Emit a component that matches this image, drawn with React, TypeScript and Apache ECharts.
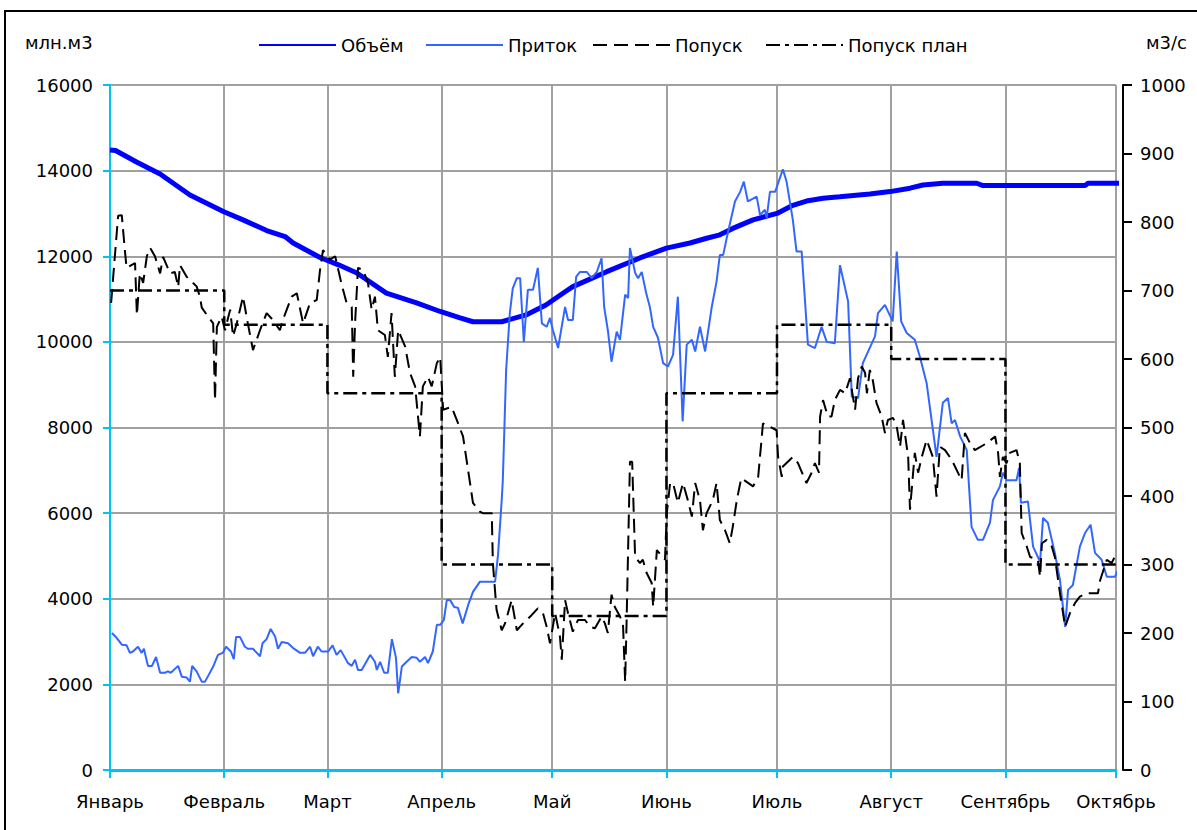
import React, { useEffect, useRef } from 'react';
import * as echarts from 'echarts';

const monthNames = ['Январь', 'Февраль', 'Март', 'Апрель', 'Май', 'Июнь', 'Июль', 'Август', 'Сентябрь', 'Октябрь'];
const monthStartDays = [0, 31, 59, 90, 120, 151, 181, 212, 243, 273];
const planMonthValues = [700, 650, 550, 300, 225, 550, 650, 600, 300];

const volume: [number, number][] = [
  [0, 14480], [1.5, 14470], [7.2, 14200], [13.6, 13920], [21.7, 13430], [30.9, 13040], [36.1, 12850],
  [42.5, 12600], [47.5, 12460], [49.7, 12310], [57, 11970], [62, 11800], [67, 11610], [75, 11140],
  [83.2, 10910], [89.6, 10710], [95, 10560], [98.5, 10470], [106.3, 10470], [112.9, 10630], [118.3, 10860],
  [123.5, 11170], [125.6, 11290], [134.8, 11640], [143.8, 11960], [151, 12190], [157.4, 12310],
  [161.9, 12420], [165.5, 12500], [169, 12650], [174.5, 12850], [181, 13000], [185.3, 13190], [189, 13290],
  [193.5, 13355], [198, 13390], [206.2, 13455], [211.7, 13510], [217.1, 13590], [220.6, 13665], [226, 13705],
  [235.2, 13705], [236.9, 13650], [264.6, 13650], [265.4, 13705], [274, 13705]
];

const inflow: [number, number][] = [
  [0.5, 200], [1.8, 193], [3.2, 183], [4.5, 182], [5.4, 171], [6.2, 173], [7.6, 180], [8.6, 171], [9.2, 177],
  [10.3, 152], [11.4, 152], [12.5, 165], [13.6, 142], [14.9, 142], [15.7, 144], [16.5, 142], [18.5, 152],
  [19.5, 136], [20.8, 135], [21.7, 129], [22.3, 152], [23.5, 144], [24.9, 129], [25.8, 129], [26.9, 140],
  [28, 151], [29.3, 168], [30.6, 171], [31.5, 180], [32.8, 173], [33.6, 162], [34.2, 194], [35.3, 194],
  [36.6, 180], [37.4, 177], [38.8, 177], [40.7, 166], [41.4, 185], [42.5, 191], [43.6, 206], [44.8, 195],
  [45.6, 177], [46.6, 187], [48.3, 185], [49.7, 178], [51.6, 171], [52.9, 171], [54.3, 180], [55.1, 166],
  [56.4, 180], [57.4, 173], [59.2, 173], [60.4, 182], [61.5, 168], [62.6, 175], [64.6, 156], [65.6, 152],
  [66.5, 161], [67.3, 146], [68.3, 146], [70.6, 168], [71.9, 158], [72.4, 146], [73.3, 158], [74.4, 142],
  [75.4, 142], [76.5, 191], [77.6, 164], [78.2, 112], [79.2, 151], [80.5, 158], [81.9, 165], [83.2, 164],
  [84.1, 158], [85.5, 165], [86.3, 156], [87.6, 173], [88.7, 212], [89.6, 212], [90.6, 219], [91.4, 248],
  [92.3, 248], [93.4, 238], [94.4, 237], [95.7, 214], [97.2, 241], [98.5, 260], [100.4, 275], [104.5, 275],
  [105.3, 314], [106.3, 394], [106.6, 423], [107.5, 584], [108.5, 667], [109.3, 703], [110.4, 718],
  [111.3, 718], [112.3, 625], [113.4, 701], [114.8, 701], [116.1, 733], [117.2, 652], [118.5, 647],
  [119.4, 660], [120.2, 642], [121.6, 616], [123.5, 676], [124.3, 657], [125.6, 657], [126.5, 720],
  [127.5, 727], [129.4, 727], [130.7, 718], [132.1, 727], [133.4, 747], [134.1, 676], [135.1, 642],
  [136.1, 596], [137.5, 640], [138.4, 628], [139.8, 694], [140.6, 689], [141.1, 762], [142.5, 726],
  [143.3, 718], [144.3, 727], [145.6, 694], [146.5, 676], [147.4, 647], [148.7, 631], [150.1, 594],
  [151.4, 589], [152.8, 606], [154.1, 691], [155.4, 509], [156.5, 621], [157.9, 628], [158.8, 611],
  [160.1, 647], [161.5, 611], [163.3, 676], [164.6, 713], [165.5, 752], [166.4, 752], [167.7, 785],
  [169.6, 830], [171, 844], [172, 859], [173.1, 830], [175.5, 837], [176.4, 810], [177.7, 818], [178.2, 806],
  [179.1, 844], [180.5, 844], [182.6, 877], [183.6, 859], [185.3, 803], [186.3, 757], [187.7, 757],
  [189.4, 621], [191.3, 616], [193.1, 647], [194.5, 625], [196.7, 623], [198.1, 737], [200.3, 684],
  [201.3, 545], [203, 543], [204.3, 594], [207.6, 633], [208.4, 667], [210.3, 679], [212.4, 655],
  [213.5, 757], [214.7, 655], [216.2, 638], [218.4, 628], [219.8, 603], [221.6, 565], [224.3, 457],
  [226, 536], [227.4, 543], [228.4, 506], [229.3, 511], [230.7, 487], [232.5, 467], [233.8, 355],
  [235.5, 336], [236.9, 336], [238.8, 361], [239.6, 394], [241.5, 414], [242.3, 434], [243.3, 423],
  [246, 423], [246.7, 441], [247.2, 390], [249.1, 392], [250.5, 326], [252.4, 304], [253.2, 368],
  [254.5, 361], [256.4, 317], [257.8, 277], [259.2, 209], [260, 263], [261.3, 270], [263.2, 326],
  [264.6, 346], [266.1, 358], [267.3, 317], [269.1, 307], [270.5, 282], [272.7, 282], [274.1, 299]
];

const release: [number, number][] = [
  [0.3, 682], [2.2, 809], [3.2, 810], [4.1, 755], [4.5, 733], [6.8, 740], [7.3, 664], [8.1, 725], [9, 711],
  [10, 750], [10.9, 762], [12.2, 750], [13.6, 725], [14.4, 749], [16.3, 725], [17.6, 727], [18.5, 705],
  [19, 737], [20.8, 720], [23.5, 706], [24.4, 691], [24.9, 675], [26.6, 662], [28, 652], [28.5, 540],
  [29, 647], [30.3, 662], [31.2, 642], [32.6, 672], [33.4, 633], [34.4, 652], [36.1, 691], [37.4, 652],
  [38.8, 613], [40.7, 642], [42.5, 667], [44.2, 657], [46.1, 642], [46.9, 657], [49.3, 691], [50.7, 696],
  [52.4, 652], [54.3, 682], [56.1, 686], [57, 730], [57.8, 759], [59.7, 745], [61.1, 750], [62.9, 708],
  [64.2, 682], [65.6, 676], [66, 574], [66.5, 652], [67.3, 733], [68.7, 730], [70, 711], [71, 672],
  [71.9, 691], [72.7, 642], [74.6, 635], [75.4, 603], [76.4, 667], [77.3, 574], [78.2, 642], [80.1, 618],
  [81.4, 580], [82.8, 560], [84.1, 487], [84.9, 560], [86.3, 574], [87.3, 560], [88.7, 594], [89.6, 603],
  [90.4, 526], [92.7, 530], [94.1, 511], [95.8, 487], [97.7, 419], [98.5, 390], [100.4, 377], [101.2, 375],
  [103.6, 375], [103.9, 302], [104.9, 234], [106.3, 204], [107.2, 214], [109, 248], [110.4, 204],
  [112.1, 214], [114.4, 226], [116.1, 236], [117.5, 229], [118.5, 209], [119.4, 185], [120.8, 229],
  [122.1, 195], [122.6, 161], [123.5, 248], [124.3, 229], [125.6, 202], [127, 219], [128.9, 219],
  [130.3, 209], [131.6, 207], [133.4, 224], [134.3, 214], [135.1, 200], [136.1, 256], [137, 238],
  [138.4, 224], [139.2, 214], [139.8, 129], [140.2, 219], [141.1, 450], [141.7, 450], [142.5, 311],
  [143.8, 302], [144.6, 307], [145.6, 288], [147, 273], [147.4, 238], [148.4, 321], [150.6, 307],
  [151.1, 375], [152, 419], [152.8, 419], [154.1, 390], [155.5, 419], [156.8, 394], [157.9, 370],
  [158.8, 419], [160.1, 394], [160.9, 350], [161.9, 375], [163.6, 394], [164.6, 419], [165.5, 365],
  [166.9, 350], [168.2, 331], [169, 355], [170.1, 394], [171.3, 426], [174.5, 414], [175.9, 428],
  [177.2, 506], [179.1, 501], [180.9, 496], [181.3, 457], [182.3, 428], [182.6, 443], [185.3, 457],
  [186.7, 448], [189, 419], [190.4, 434], [191.3, 448], [192.4, 434], [192.7, 516], [193.5, 540],
  [194.8, 516], [195.8, 516], [196.7, 540], [198.1, 555], [199.5, 550], [200.8, 572], [201.6, 545],
  [202.2, 526], [203, 572], [204, 589], [204.9, 580], [205.4, 550], [206.2, 584], [207, 569], [208, 536],
  [209.4, 516], [210.3, 492], [211.1, 511], [212.5, 514], [213.5, 501], [214.4, 472], [215.2, 511],
  [216.6, 457], [217.1, 380], [218.4, 463], [219.3, 434], [220.3, 457], [221.6, 482], [223.3, 457],
  [224.3, 399], [225.2, 472], [226.6, 467], [228.4, 453], [231.1, 423], [232, 492], [233.4, 477],
  [234.7, 467], [237.9, 477], [240.2, 487], [241, 463], [241.5, 428], [242.3, 457], [243.3, 448],
  [244.2, 463], [246, 467], [246.9, 448], [247.4, 346], [248.8, 326], [249.7, 311], [251.8, 307],
  [252.4, 282], [252.9, 331], [254.2, 336], [255.6, 326], [256.4, 311], [257.8, 258], [259.2, 209],
  [260.5, 229], [261.9, 244], [263.2, 253], [265, 258], [268.1, 258], [268.7, 277], [270.5, 307],
  [271.8, 302], [273.2, 317], [274.1, 326]
];

const TOTAL_DAYS = 273;
const FONT = 'DejaVu Sans';
const FONT_SIZE = 18;
const CYAN = '#00c3f5';
const GRID_GRAY = '#a0a0a0';

export default function App() {
  const ref = useRef<HTMLDivElement>(null);

  useEffect(() => {
    if (!ref.current) return;
    const chart = echarts.init(ref.current, null, { renderer: 'svg' });

    const dayCategories = Array.from({ length: TOTAL_DAYS + 1 }, (_, i) => String(i));
    const isMonthStart = (index: number) => monthStartDays.indexOf(index) >= 0;
    const planData: [number, number][] = planMonthValues.map((v, i) => [monthStartDays[i], v] as [number, number]);
    planData.push([TOTAL_DAYS + 1, planMonthValues[planMonthValues.length - 1]]);
    const plainNumber = (v: number) => String(v);

    const legendBase = {
      orient: 'horizontal',
      top: 36,
      padding: 0,
      itemWidth: 77,
      itemHeight: 14,
      itemGap: 0,
      itemStyle: { opacity: 0, borderWidth: 0 },
      textStyle: { fontFamily: FONT, fontSize: FONT_SIZE, color: '#000' },
    };

    const option: any = {
      animation: false,
      textStyle: { fontFamily: FONT },
      grid: { left: 110, right: 81, top: 85, bottom: 60, containLabel: false },
      legend: [
        { ...legendBase, left: 258, data: ['Объём'] },
        { ...legendBase, left: 425, data: ['Приток'] },
        { ...legendBase, left: 592, data: ['Попуск'] },
        { ...legendBase, left: 765, data: ['Попуск план'] },
      ],
      xAxis: [
        { type: 'value', min: 0, max: TOTAL_DAYS, show: false },
        {
          type: 'category',
          data: dayCategories,
          boundaryGap: false,
          position: 'bottom',
          axisLine: { show: true, lineStyle: { color: CYAN, width: 3 } },
          axisTick: { show: true, interval: isMonthStart, length: 8, lineStyle: { color: CYAN, width: 2 } },
          axisLabel: {
            interval: isMonthStart,
            formatter: (v: string) => {
              const k = monthStartDays.indexOf(Number(v));
              return k >= 0 ? monthNames[k] : '';
            },
            color: '#000',
            fontFamily: FONT,
            fontSize: FONT_SIZE,
            margin: 22,
          },
          splitLine: { show: true, interval: isMonthStart, lineStyle: { color: GRID_GRAY, width: 2 } },
        },
      ],
      yAxis: [
        {
          type: 'value',
          min: 0,
          max: 16000,
          interval: 2000,
          position: 'left',
          axisLine: { show: true, lineStyle: { color: CYAN, width: 2 } },
          axisTick: { show: true, length: 7, lineStyle: { color: CYAN, width: 2 } },
          axisLabel: { color: '#000', fontFamily: FONT, fontSize: FONT_SIZE, margin: 17, formatter: plainNumber },
          splitLine: { show: true, lineStyle: { color: GRID_GRAY, width: 2 } },
        },
        {
          type: 'value',
          min: 0,
          max: 1000,
          interval: 100,
          position: 'right',
          offset: 7,
          axisLine: { show: true, lineStyle: { color: '#000', width: 2 } },
          axisTick: { show: true, length: 9, lineStyle: { color: '#000', width: 2 } },
          axisLabel: { color: '#000', fontFamily: FONT, fontSize: FONT_SIZE, margin: 17, formatter: plainNumber },
          splitLine: { show: false },
        },
      ],
      series: [
        {
          name: 'Объём',
          type: 'line',
          xAxisIndex: 0,
          yAxisIndex: 0,
          data: volume,
          symbol: 'none',
          clip: false,
          itemStyle: { color: '#0000ff' },
          lineStyle: { color: '#0000ff', width: 5 },
        },
        {
          name: 'Приток',
          type: 'line',
          xAxisIndex: 0,
          yAxisIndex: 1,
          data: inflow,
          symbol: 'none',
          clip: false,
          itemStyle: { color: '#3366ff' },
          lineStyle: { color: '#3366ff', width: 2 },
        },
        {
          name: 'Попуск',
          type: 'line',
          xAxisIndex: 0,
          yAxisIndex: 1,
          data: release,
          symbol: 'none',
          clip: false,
          itemStyle: { color: '#000' },
          lineStyle: { color: '#000', width: 2, type: [14, 7] },
        },
        {
          name: 'Попуск план',
          type: 'line',
          xAxisIndex: 0,
          yAxisIndex: 1,
          data: planData,
          step: 'end',
          symbol: 'none',
          clip: true,
          itemStyle: { color: '#000' },
          lineStyle: { color: '#000', width: 2.5, type: [14, 5, 4, 5] },
        },
      ],
      graphic: [
        {
          type: 'rect',
          shape: { x: 5, y: 11, width: 1210, height: 840 },
          style: { fill: 'none', stroke: '#000', lineWidth: 2 },
          silent: true,
        },
        {
          type: 'text',
          left: 25,
          top: 33,
          style: { text: 'млн.м3', fontFamily: FONT, fontSize: FONT_SIZE, fill: '#000' },
        },
        {
          type: 'text',
          left: 1146,
          top: 33,
          style: { text: 'м3/с', fontFamily: FONT, fontSize: FONT_SIZE, fill: '#000' },
        },
      ],
    };

    chart.setOption(option);
    return () => chart.dispose();
  }, []);

  return (
    <div
      ref={ref}
      style={{ position: 'fixed', left: 0, top: 0, width: 1197, height: 830, background: '#fff' }}
    />
  );
}
